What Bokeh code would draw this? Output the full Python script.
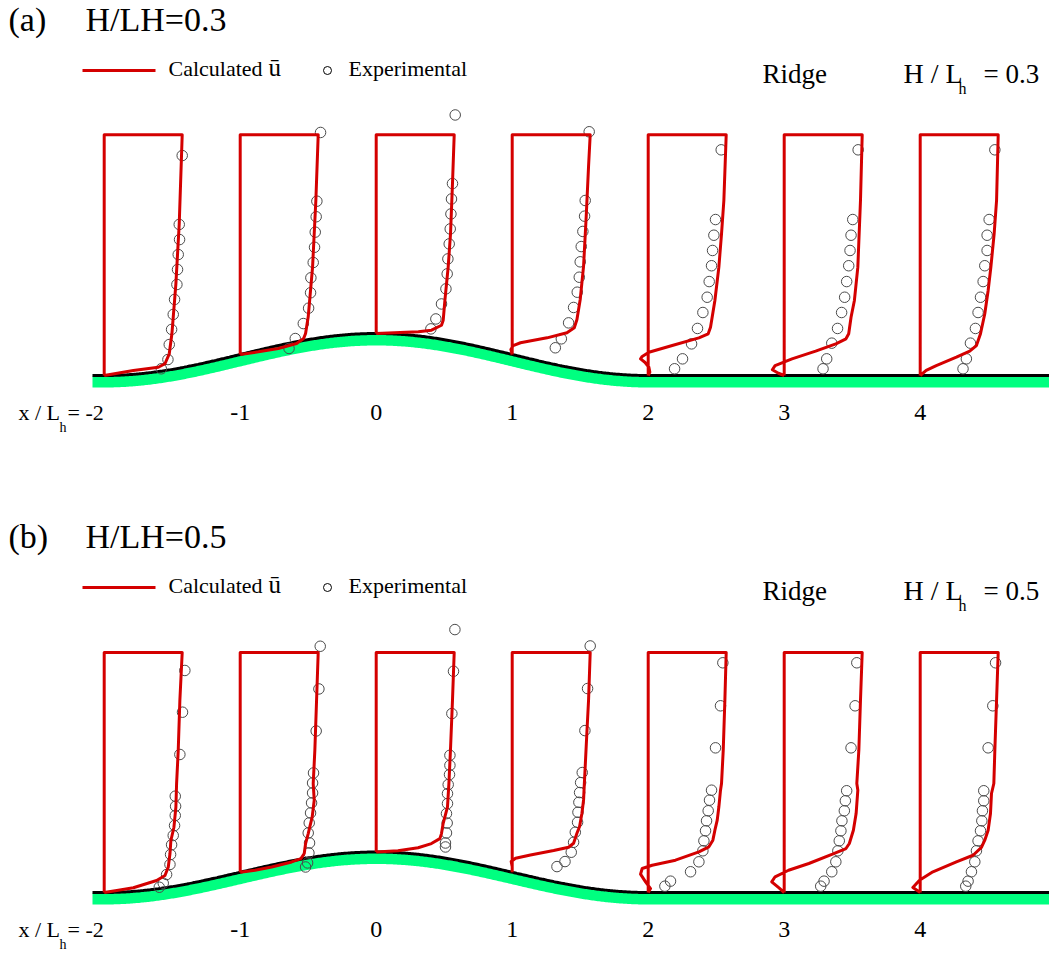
import numpy as np
from bokeh.plotting import figure
from bokeh.layouts import column
from bokeh.models import Range1d
from bokeh.core.properties import value
from bokeh.embed import file_html
from bokeh.resources import INLINE

# ---------------------------------------------------------------- data
stations = [-2, -1, 0, 1, 2, 3, 4]
station_labels = ["-2", "-1", "0", "1", "2", "3", "4"]
ridge_ratio_a = 0.3
ridge_ratio_b = 0.5

# Calculated mean velocity u/U (one list per station) and height above the
# local surface z/Lh, panel (a)
calc_u_a = [
    [1.0, 0.962, 0.919, 0.868, 0.834, 0.779, 0.694, 0.374, 0.0],
    [1.0, 0.970, 0.928, 0.872, 0.838, 0.813, 0.723, 0.489, 0.234, 0.0],
    [1.0, 0.978, 0.953, 0.923, 0.881, 0.859, 0.837, 0.709, 0.54, 0.0],
    [1.0, 0.979, 0.949, 0.915, 0.872, 0.83, 0.796, 0.702, 0.447, 0.106, 0.013, -0.017, 0.0],
    [1.0, 0.97, 0.94, 0.906, 0.855, 0.799, 0.769, 0.65, 0.308, 0.009, -0.077, -0.098, -0.043, 0.009, 0.021, 0.0],
    [1.0, 0.978, 0.944, 0.9, 0.857, 0.827, 0.792, 0.662, 0.403, 0.1, -0.117, -0.152, -0.074, 0.0],
    [1.0, 0.979, 0.948, 0.906, 0.871, 0.828, 0.773, 0.721, 0.635, 0.464, 0.206, 0.077, 0.0],
]
calc_z_a = [
    [1.719, 1.084, 0.655, 0.298, 0.155, 0.084, 0.059, 0.036, 0.0],
    [1.569, 1.102, 0.626, 0.269, 0.150, 0.114, 0.079, 0.043, 0.019, 0.0],
    [1.419, 1.071, 0.714, 0.476, 0.238, 0.095, 0.059, 0.024, 0.012, 0.0],
    [1.569, 1.345, 0.988, 0.631, 0.393, 0.25, 0.191, 0.155, 0.119, 0.084, 0.064, 0.036, 0.0],
    [1.719, 1.25, 1.012, 0.774, 0.536, 0.345, 0.298, 0.269, 0.214, 0.166, 0.136, 0.119, 0.095, 0.059, 0.024, 0.0],
    [1.719, 1.25, 0.774, 0.536, 0.416, 0.298, 0.262, 0.226, 0.174, 0.119, 0.071, 0.041, 0.016, 0.0],
    [1.719, 1.25, 1.012, 0.774, 0.607, 0.441, 0.298, 0.214, 0.174, 0.131, 0.071, 0.036, 0.0],
]
# Experimental u/U and z/Lh, panel (a)
exp_u_a = [
    [1.0, 0.962, 0.966, 0.949, 0.94, 0.932, 0.902, 0.885, 0.864, 0.834, 0.817, 0.732],
    [1.03, 0.983, 0.974, 0.962, 0.953, 0.936, 0.906, 0.902, 0.877, 0.809, 0.706, 0.626],
    [1.013, 0.978, 0.965, 0.958, 0.949, 0.936, 0.919, 0.91, 0.894, 0.837, 0.765, 0.701],
    [0.987, 0.936, 0.928, 0.906, 0.885, 0.872, 0.86, 0.834, 0.787, 0.723, 0.63, 0.553],
    [0.936, 0.863, 0.842, 0.825, 0.812, 0.782, 0.756, 0.701, 0.632, 0.556, 0.44, 0.338],
    [0.948, 0.879, 0.857, 0.844, 0.827, 0.801, 0.775, 0.736, 0.684, 0.61, 0.545, 0.498],
    [0.957, 0.884, 0.858, 0.858, 0.828, 0.807, 0.773, 0.742, 0.708, 0.644, 0.592, 0.549],
]
exp_z_a = [
    [1.571, 1.079, 0.971, 0.864, 0.757, 0.65, 0.543, 0.436, 0.329, 0.221, 0.114, 0.048],
    [1.586, 1.095, 0.984, 0.874, 0.766, 0.657, 0.548, 0.441, 0.331, 0.221, 0.114, 0.043],
    [1.561, 1.071, 0.961, 0.854, 0.747, 0.64, 0.533, 0.426, 0.319, 0.211, 0.104, 0.033],
    [1.591, 1.1, 0.988, 0.879, 0.771, 0.662, 0.552, 0.445, 0.336, 0.226, 0.112, 0.048],
    [1.612, 1.114, 1.002, 0.893, 0.784, 0.671, 0.559, 0.45, 0.336, 0.226, 0.119, 0.048],
    [1.612, 1.114, 1.002, 0.893, 0.784, 0.671, 0.559, 0.45, 0.336, 0.231, 0.119, 0.048],
    [1.612, 1.114, 1.002, 0.893, 0.784, 0.671, 0.559, 0.45, 0.336, 0.231, 0.119, 0.048],
]

# Calculated u/U and z/Lh, panel (b)
calc_u_b = [
    [1.0, 0.97, 0.949, 0.928, 0.919, 0.894, 0.855, 0.843, 0.821, 0.779, 0.672, 0.374, 0.162, 0.0],
    [1.0, 0.979, 0.957, 0.936, 0.949, 0.923, 0.872, 0.838, 0.821, 0.779, 0.66, 0.404, 0.191, 0.0],
    [1.0, 0.978, 0.952, 0.932, 0.914, 0.858, 0.837, 0.816, 0.708, 0.537, 0.279, 0.0],
    [1.0, 0.979, 0.957, 0.936, 0.923, 0.915, 0.894, 0.864, 0.83, 0.787, 0.723, 0.532, 0.234, 0.043, -0.013, 0.0, 0.0],
    [1.0, 0.983, 0.962, 0.94, 0.927, 0.906, 0.885, 0.855, 0.829, 0.778, 0.65, 0.35, 0.051, -0.077, -0.098, -0.034, 0.03, 0.0],
    [1.0, 0.978, 0.957, 0.931, 0.944, 0.922, 0.887, 0.835, 0.792, 0.619, 0.316, 0.056, -0.117, -0.16, -0.074, 0.0],
    [1.0, 0.979, 0.957, 0.944, 0.914, 0.901, 0.871, 0.828, 0.785, 0.678, 0.464, 0.163, -0.009, -0.094, 0.0],
]
calc_z_b = [
    [2.963, 2.370, 1.753, 1.342, 1.053, 0.806, 0.642, 0.478, 0.312, 0.210, 0.148, 0.058, 0.025, 0.0],
    [2.713, 2.123, 1.506, 1.095, 0.889, 0.683, 0.478, 0.354, 0.231, 0.169, 0.127, 0.065, 0.025, 0.0],
    [2.463, 1.873, 1.256, 0.844, 0.556, 0.351, 0.227, 0.165, 0.104, 0.052, 0.015, 0.0],
    [2.713, 2.127, 1.716, 1.305, 1.058, 0.893, 0.728, 0.564, 0.481, 0.358, 0.309, 0.268, 0.214, 0.173, 0.132, 0.070, 0.0],
    [2.963, 2.374, 1.757, 1.346, 1.263, 1.058, 0.893, 0.769, 0.646, 0.564, 0.502, 0.399, 0.337, 0.296, 0.226, 0.132, 0.049, 0.0],
    [2.963, 2.374, 1.757, 1.346, 1.263, 0.975, 0.769, 0.605, 0.543, 0.473, 0.358, 0.275, 0.194, 0.132, 0.062, 0.0],
    [2.963, 2.374, 1.757, 1.346, 1.222, 0.975, 0.769, 0.646, 0.556, 0.460, 0.379, 0.256, 0.152, 0.062, 0.0],
]
# Experimental u/U and z/Lh, panel (b)
exp_u_b = [
    [1.034, 1.004, 0.97, 0.911, 0.915, 0.911, 0.902, 0.885, 0.864, 0.851, 0.843, 0.8, 0.757, 0.706],
    [1.026, 1.009, 0.974, 0.94, 0.928, 0.928, 0.915, 0.902, 0.885, 0.872, 0.889, 0.881, 0.864, 0.838],
    [1.009, 0.991, 0.97, 0.945, 0.945, 0.94, 0.923, 0.914, 0.914, 0.901, 0.91, 0.901, 0.888, 0.888],
    [1.0, 0.966, 0.932, 0.898, 0.877, 0.864, 0.855, 0.843, 0.838, 0.809, 0.787, 0.757, 0.677, 0.574],
    [0.957, 0.927, 0.863, 0.812, 0.786, 0.769, 0.748, 0.735, 0.714, 0.701, 0.65, 0.543, 0.286, 0.214],
    [0.931, 0.909, 0.857, 0.801, 0.784, 0.771, 0.74, 0.727, 0.706, 0.688, 0.662, 0.61, 0.511, 0.468],
    [0.966, 0.931, 0.871, 0.815, 0.815, 0.798, 0.79, 0.773, 0.742, 0.721, 0.7, 0.657, 0.614, 0.584],
]
exp_z_b = [
    [2.741, 2.226, 1.704, 1.189, 1.065, 0.951, 0.827, 0.704, 0.589, 0.469, 0.346, 0.222, 0.115, 0.065],
    [2.790, 2.263, 1.744, 1.226, 1.102, 0.979, 0.856, 0.732, 0.609, 0.485, 0.362, 0.238, 0.115, 0.065],
    [2.746, 2.231, 1.709, 1.194, 1.070, 0.956, 0.832, 0.721, 0.598, 0.474, 0.358, 0.235, 0.111, 0.062],
    [2.794, 2.268, 1.749, 1.231, 1.107, 0.984, 0.864, 0.741, 0.617, 0.494, 0.370, 0.247, 0.132, 0.070],
    [2.836, 2.305, 1.786, 1.263, 1.140, 1.009, 0.885, 0.762, 0.638, 0.515, 0.379, 0.256, 0.140, 0.078],
    [2.836, 2.305, 1.786, 1.256, 1.132, 1.009, 0.885, 0.762, 0.638, 0.515, 0.379, 0.256, 0.140, 0.078],
    [2.836, 2.305, 1.786, 1.256, 1.132, 1.009, 0.885, 0.762, 0.638, 0.515, 0.379, 0.256, 0.140, 0.078],
]

# ---------------------------------------------------------------- layout
PAGE_W = 1049
X0_PX = 375.7          # pixel column of x/Lh = 0
X_PX = 136.0           # pixels per Lh horizontally
GROUND_PX = 375        # flat floor, pixels below the panel top
PROFILE_WIDTH = 78.0 / X_PX   # u/U = 1 drawn this wide (in Lh)
RED = "#d40000"
GREEN = "#00ff80"
SERIF = value("Liberation Serif")


def surface(x, h):
    x = np.asarray(x, dtype=float)
    return np.where(np.abs(x) < 2.0, h * np.cos(np.pi * x / 4.0) ** 2, 0.0)


def make_panel(tag, ratio, height, vscale, cu, cz, eu, ez):
    p = figure(width=PAGE_W, height=height,
               x_range=Range1d(-X0_PX / X_PX, (PAGE_W - X0_PX) / X_PX),
               y_range=Range1d(-(height - GROUND_PX) / vscale, GROUND_PX / vscale),
               output_backend="svg", toolbar_location=None,
               x_axis_location=None, y_axis_location=None,
               min_border=0, background_fill_color="white",
               border_fill_color="white")
    p.grid.visible = False
    p.outline_line_color = None

    def sx(xp):
        return (xp - X0_PX) / X_PX

    def sy(yp):
        return (GROUND_PX - yp) / vscale

    # ridge surface
    xg = np.linspace(sx(92), sx(PAGE_W), 700)
    zg = surface(xg, ratio)
    p.varea(x=xg, y1=zg - 12.0 / vscale, y2=zg - 1.0 / vscale,
            fill_color=GREEN)
    p.line(xg, zg, line_color="black", line_width=3)

    # experimental points
    for s, us, zs_ in zip(stations, eu, ez):
        base = float(surface(s, ratio))
        p.scatter([s + PROFILE_WIDTH * u for u in us], [base + z for z in zs_],
                  marker="circle", size=10.5, fill_color=None,
                  line_color="#4a4a4a", line_width=1)

    # calculated profiles: vertical reference, top and velocity curve
    for s, us, zs_ in zip(stations, cu, cz):
        base = float(surface(s, ratio))
        xs = [s, s] + [s + PROFILE_WIDTH * u for u in us]
        ys = [base, base + zs_[0]] + [base + z for z in zs_]
        p.line(xs, ys, line_color=RED, line_width=3, line_join="round")

    def txt(x, y, s, size, align="left"):
        p.text(x=[x], y=[y], text=[s], text_font=SERIF,
               text_font_size=size, text_align=align,
               text_baseline="middle", text_color="black")

    # panel heading
    txt(sx(8), sy(19), f"({tag})", "34px")
    txt(sx(85), sy(19), f"H/LH={ratio}", "34px")

    # legend
    p.line([sx(82), sx(155)], [sy(70), sy(70)], line_color=RED, line_width=3)
    txt(sx(168), sy(68), "Calculated", "22px")
    txt(sx(268), sy(67), "\u016b", "25px")
    p.scatter([sx(327)], [sy(70)], marker="circle", size=8, fill_color=None,
              line_color="black", line_width=1)
    txt(sx(348), sy(68), "Experimental", "22px")

    # case label
    txt(sx(762), sy(73), "Ridge", "27px")
    txt(sx(903), sy(73), "H / L", "28px")
    txt(sx(958), sy(88), "h", "16px")
    txt(sx(983), sy(73), f"= {ratio}", "27px")

    # station labels
    txt(sx(18), sy(412), "x / L", "22px")
    txt(sx(59), sy(427), "h", "14px")
    txt(sx(67), sy(412), "= " + station_labels[0], "22px")
    for s, lab in zip(stations[1:], station_labels[1:]):
        txt(s, sy(412), lab, "24px", align="center")
    return p


pa = make_panel("a", ridge_ratio_a, 517, 140.0, calc_u_a, calc_z_a, exp_u_a, exp_z_a)
pb = make_panel("b", ridge_ratio_b, 436, 81.0, calc_u_b, calc_z_b, exp_u_b, exp_z_b)

layout = column(pa, pb, spacing=0)
open("out.html", "w").write(file_html(layout, INLINE))
